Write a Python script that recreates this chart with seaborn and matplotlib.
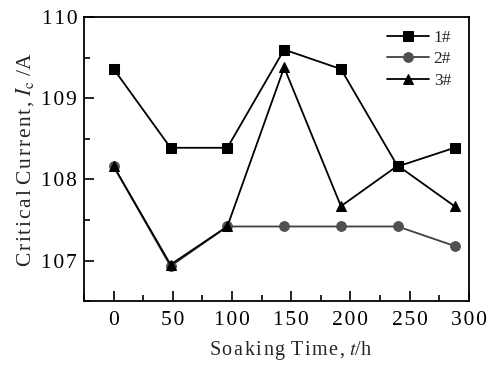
import numpy as np
import pandas as pd
import matplotlib
matplotlib.use("Agg")
import matplotlib.pyplot as plt
import seaborn as sns
from matplotlib.ticker import MultipleLocator, FuncFormatter

hours = [0, 48, 96, 144, 192, 240, 288]
s1 = [109.36, 108.39, 108.39, 109.60, 109.36, 108.16, 108.39]
s2 = [108.16, 106.93, 107.42, 107.42, 107.42, 107.42, 107.18]
s3 = [108.16, 106.95, 107.42, 109.38, 107.67, 108.17, 107.67]
labels = ["1#", "2#", "3#"]

HS = "\u200a"  # hair space, mimics the loose letter spacing of the original


def spaced(s):
    return HS.join(s)


sns.set_style("ticks")
plt.rcParams['font.family'] = ['Liberation Serif', 'DejaVu Serif']
plt.rcParams['mathtext.fontset'] = 'stix'

fig, ax = plt.subplots(figsize=(4.95, 3.65), dpi=100)
fig.subplots_adjust(left=0.170, right=0.947, top=0.953, bottom=0.175)

styles = [("s", "black", "black"), ("o", "#404040", "#505050"), ("^", "black", "black")]
for vals, lab, (mk, lc, mc) in zip([s1, s2, s3], labels, styles):
    df = pd.DataFrame({"t": hours, "Ic": vals})
    sns.lineplot(data=df, x="t", y="Ic", ax=ax, color=lc, marker=mk,
                 markersize=7, markerfacecolor=mc, markeredgecolor=mc,
                 linewidth=1.3, label=lab)

ax.set_xlim(-25, 300)
ax.set_ylim(106.5, 110)
ax.xaxis.set_major_locator(MultipleLocator(50))
ax.xaxis.set_minor_locator(MultipleLocator(25))
ax.yaxis.set_major_locator(MultipleLocator(1))
ax.yaxis.set_minor_locator(MultipleLocator(0.5))
fmt = FuncFormatter(lambda v, p: spaced(f"{v:.0f}"))
ax.xaxis.set_major_formatter(fmt)
ax.yaxis.set_major_formatter(fmt)
ax.tick_params(which="both", direction="in", top=False, right=False,
               labelsize=15.5, width=1.2, colors="black")
ax.tick_params(axis="x", pad=7)
ax.tick_params(axis="y", pad=5)
ax.tick_params(which="major", length=7)
ax.tick_params(which="minor", length=4)
for sp in ax.spines.values():
    sp.set_linewidth(1.3)
    sp.set_color("black")

ax.set_xlabel(spaced("Soaking") + " " + spaced("Time,") + " $t$/h",
              fontsize=14.5)
ax.xaxis.set_label_coords(0.538, -0.132)
ax.set_ylabel(spaced("Critical") + " " + spaced("Current,") + " $I_{\\rm c}$ /A",
              fontsize=15.5, labelpad=4)

leg = ax.legend(loc="upper right", frameon=False, fontsize=12.5,
                handlelength=2.4, handletextpad=0.3, labelspacing=0.3,
                bbox_to_anchor=(0.995, 1.01))

fig.savefig("out.png", dpi=100)
